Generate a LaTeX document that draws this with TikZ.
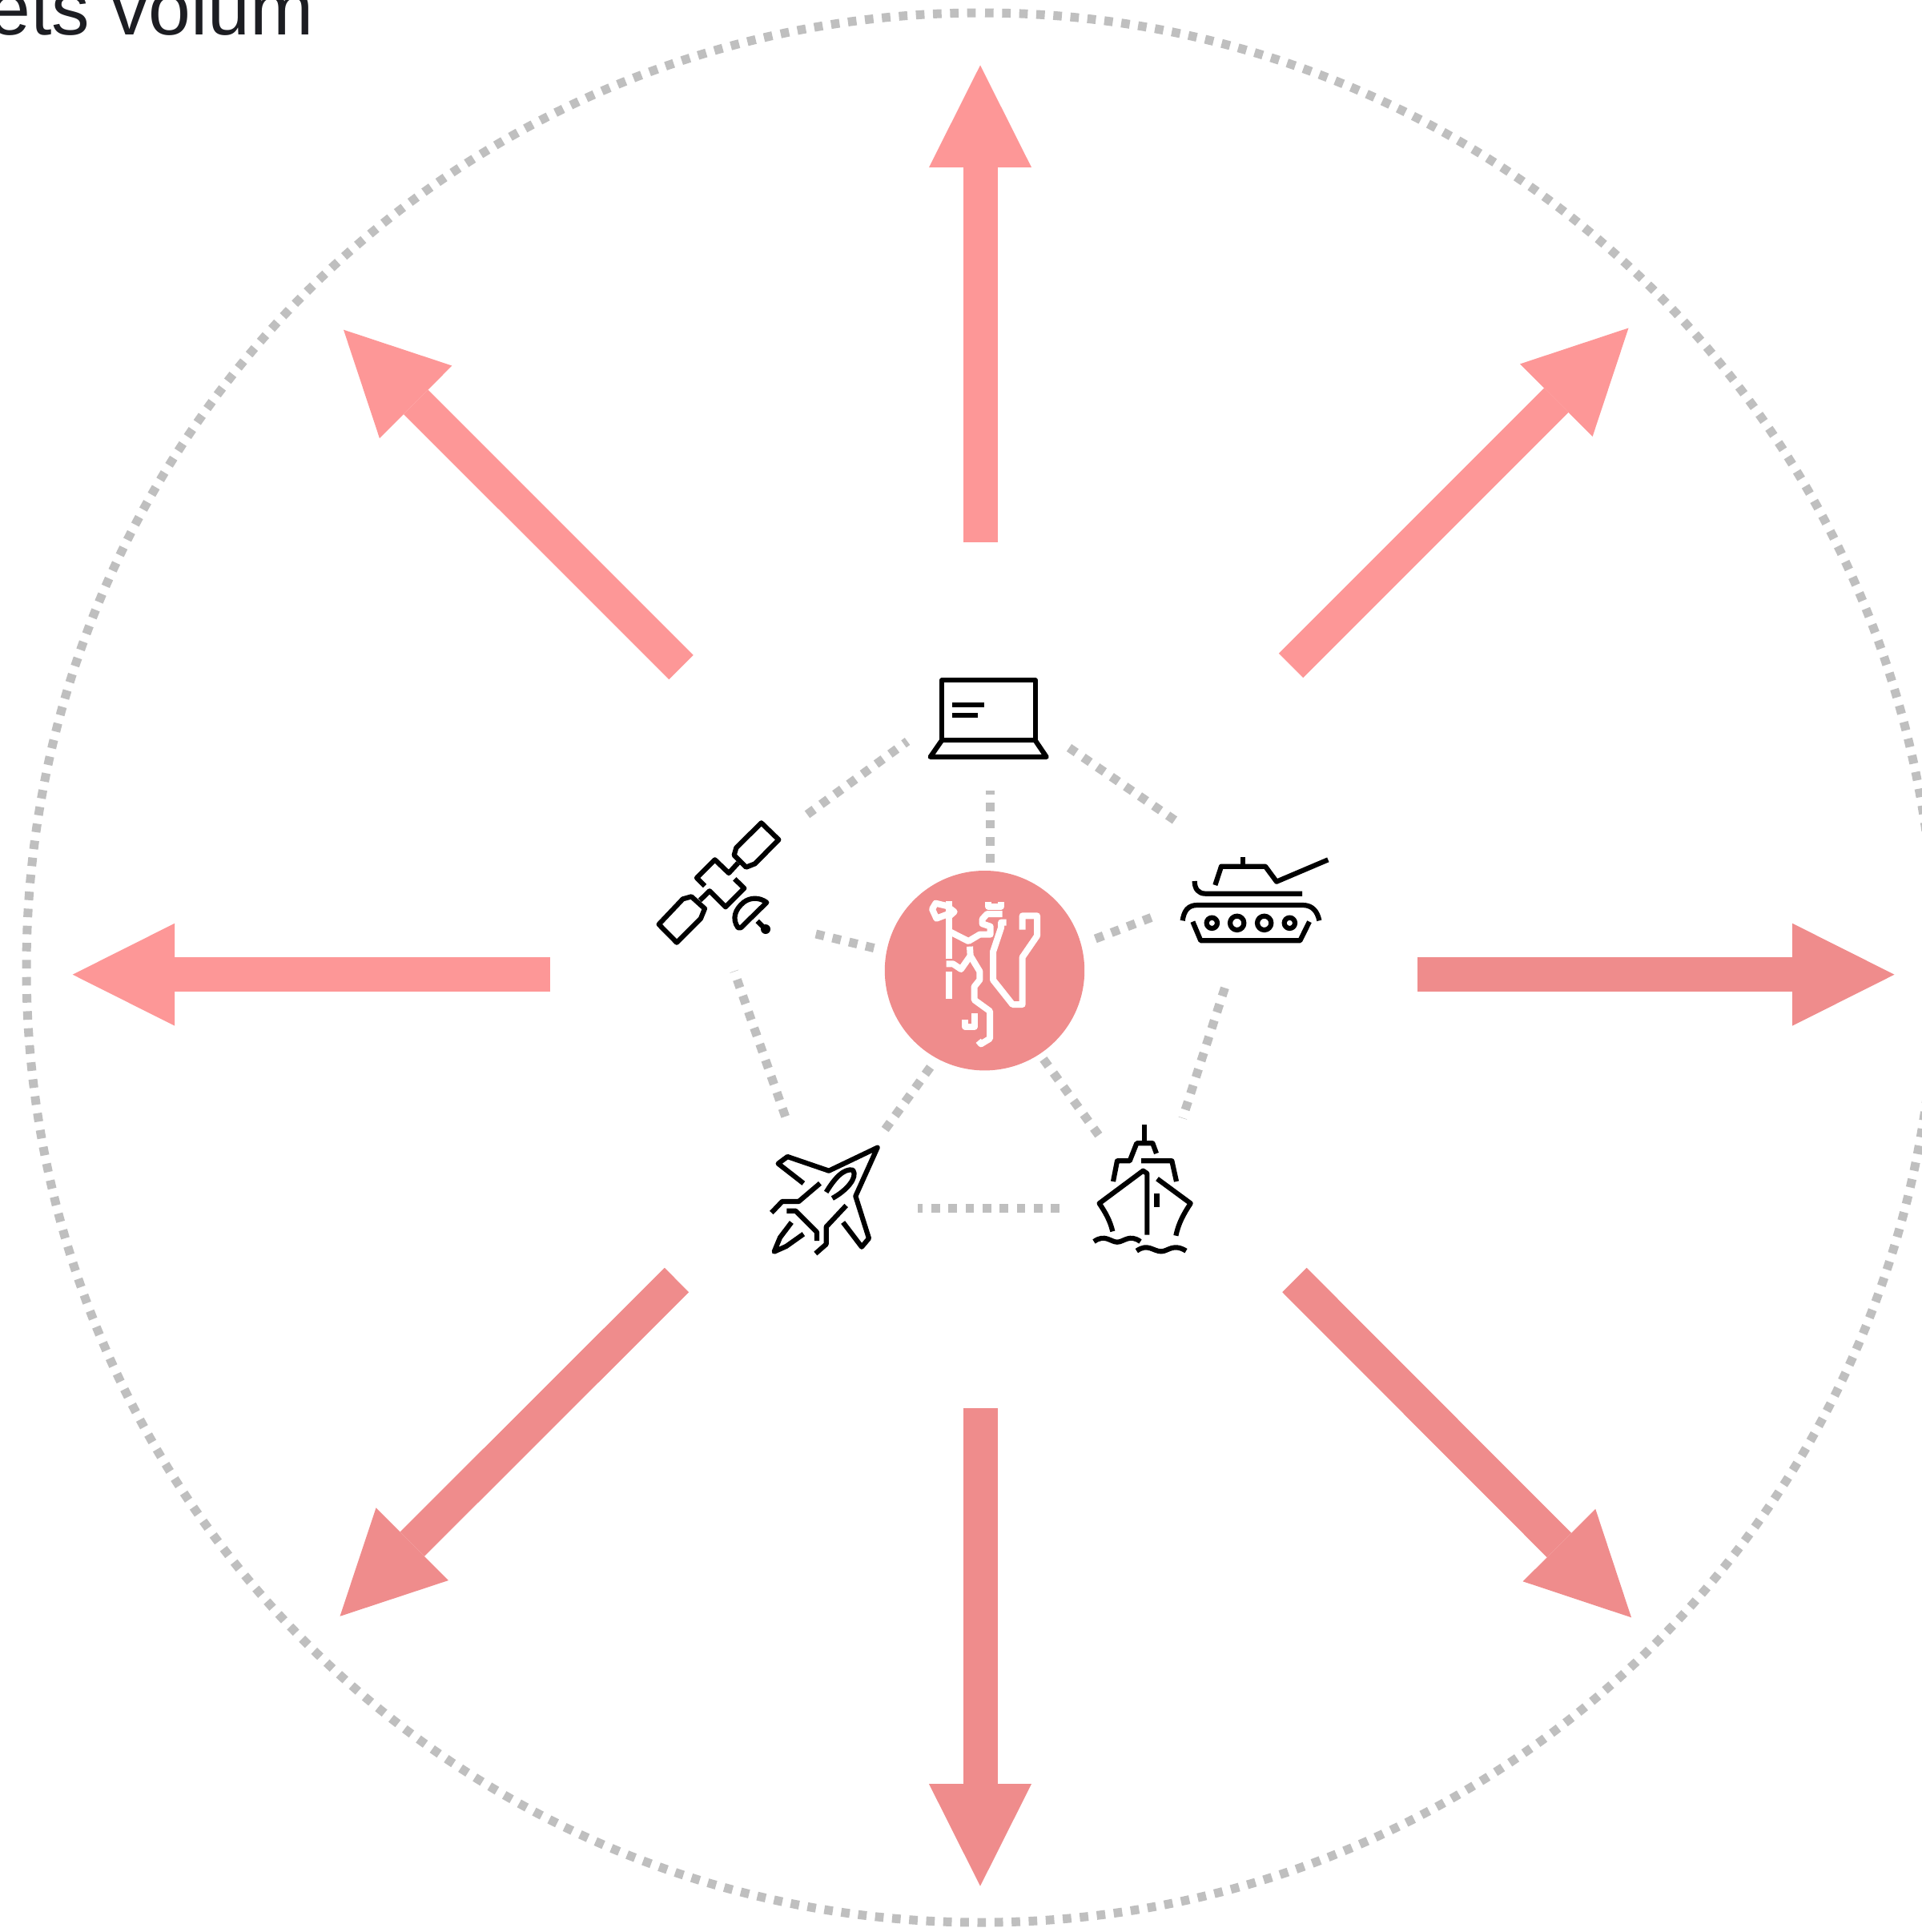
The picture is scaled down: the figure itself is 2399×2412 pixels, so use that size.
\documentclass[tikz,border=0pt]{standalone}
\usepackage{fontspec}
\setmainfont{Liberation Sans}
\usetikzlibrary{arrows.meta}
\definecolor{upcol}{HTML}{FD9797}
\definecolor{lowcol}{HTML}{EF8C8C}
\definecolor{dotcol}{HTML}{BFBFBF}
\definecolor{txtcol}{HTML}{1C1D22}
\tikzset{
  x=0.5pt,y=-0.5pt,
  bigarrow/.style={line width=21.5pt,-{Triangle[length=63.75pt,width=64pt,line width=0pt]}},
  dotline/.style={draw=dotcol,line width=5.5pt,dash pattern=on 5.33pt off 5.33pt},
  ringline/.style={draw=dotcol,line width=5.5pt,dash pattern=on 5.3345pt off 5.3345pt},
  icon/.style={draw=black,line width=3.1pt,line join=round,fill=none},
  lion/.style={draw=white,line width=4pt,line join=round,fill=none},
  zoomed/.style={scale=0.33333},
}
\begin{document}
\begin{tikzpicture}
\useasboundingbox (0,0) rectangle (2399,2412);
\fill[white] (0,0) rectangle (2399,2412);

% clipped title
\node[anchor=base west,inner sep=0pt,text=txtcol,font=\fontsize{47.5pt}{50pt}\selectfont] (title) at (-15,44) {ets volum};

% outer dotted ring
\draw[ringline,dash phase=8.17pt] (1225,16) arc[start angle=-90,end angle=270,radius=1192];

% big arrows
\coordinate (us) at (1224,677);    \coordinate (ut) at (1224,81.5);
\coordinate (uls) at (850.5,833);    \coordinate (ult) at (429,411.7);
\coordinate (urs) at (1612,831);   \coordinate (urt) at (2033.5,409.5);
\coordinate (ls) at (687,1216.7);    \coordinate (lt) at (90.7,1216.7);
\coordinate (rs) at (1770,1216.7);   \coordinate (rt) at (2365.5,1216.7);
\coordinate (lls) at (845,1598);   \coordinate (llt) at (424.5,2017.8);
\coordinate (lrs) at (1616.4,1598);  \coordinate (lrt) at (2037,2019.3);
\coordinate (ds) at (1224,1758);   \coordinate (dt) at (1224,2354.6);
\draw[bigarrow,upcol] (us) -- (ut);
\draw[bigarrow,upcol] (uls) -- (ult);
\draw[bigarrow,upcol] (urs) -- (urt);
\draw[bigarrow,upcol] (ls) -- (lt);
\draw[bigarrow,lowcol] (rs) -- (rt);
\draw[bigarrow,lowcol] (lls) -- (llt);
\draw[bigarrow,lowcol] (lrs) -- (lrt);
\draw[bigarrow,lowcol] (ds) -- (dt);

% centre disc
\node[circle,fill=lowcol,inner sep=0pt,minimum size=124.7pt] (hub) at (1229.5,1211.7) {};

% dotted links
\coordinate (a1) at (1236.3,987.3);  \coordinate (a2) at (1236.3,1076.6);
\coordinate (b1) at (1008,1016.8);   \coordinate (b2) at (1133,925.5);
\coordinate (c1) at (1335,933.5);    \coordinate (c2) at (1475,1029.5);
\coordinate (d1) at (1367.8,1172);   \coordinate (d2) at (1438.8,1145);
\coordinate (e1) at (1018.8,1166);   \coordinate (e2) at (1093,1184);
\coordinate (f1) at (916.7,1212.5);  \coordinate (f2) at (980.8,1394.3);
\coordinate (g1) at (1161.6,1332.4); \coordinate (g2) at (1104.5,1411);
\coordinate (h1) at (1302.9,1322.3); \coordinate (h2) at (1373,1418.7);
\coordinate (i1) at (1476.7,1396);   \coordinate (i2) at (1529.5,1233);
\coordinate (j1) at (1146,1508.4);   \coordinate (j2) at (1325,1508.4);
\draw[dotline,dash phase=3.08pt] (a1) -- (a2);
\draw[dotline] (b1) -- (b2);
\draw[dotline] (c1) -- (c2);
\draw[dotline] (d1) -- (d2);
\draw[dotline] (e1) -- (e2);
\draw[dotline,dash phase=5.1pt] (f1) -- (f2);
\draw[dotline] (g1) -- (g2);
\draw[dotline] (h1) -- (h2);
\draw[dotline,dash phase=5.1pt] (i1) -- (i2);
\draw[dotline,dash phase=2.2pt] (j1) -- (j2);

% laptop
\begin{scope}[shift={(1140,830)},zoomed]
\draw[icon] (108,283) -- (108,58) -- (458,58) -- (458,283) -- cycle;
\draw[icon] (108,283) -- (65,345) -- (500,345) -- (458,283);
\draw[icon] (147,151) -- (268,151);
\draw[icon] (147,190) -- (243,190);
\end{scope}

% satellite
\begin{scope}[shift={(800,1000)},zoomed]
\draw[icon] (452,82) -- (517,145) -- (428,235) -- (395,248) -- (350,203) -- (358,175) -- cycle;
\draw[icon] (365,232) -- (330,270) -- (278,220) -- (210,288) -- (240,318);
\draw[icon] (352,292) -- (388,327) -- (318,397) -- (258,337) -- (222,372);
\draw[icon] (68,462) -- (135,530) -- (225,440) -- (240,403) -- (190,358) -- (158,367) -- cycle;
\draw[icon] (472,380) -- (375,475) -- (365,475) .. controls (340,440) and (355,405) .. (385,380) .. controls (410,360) and (445,360) .. (472,380) -- cycle;
\draw[icon] (437,450) -- (465,478);
\fill (468,480) circle[radius=18];
\end{scope}

% tank
\begin{scope}[shift={(1460,1050)},zoomed]
\draw[icon] (277,60) -- (277,95);
\draw[icon] (172,165) -- (195,95) -- (360,95) -- (402,152) -- (595,70);
\draw[icon] (95,150) .. controls (95,180) and (110,197) .. (135,197) -- (498,197);
\draw[icon] (50,298) .. controls (55,262) and (70,240) .. (105,240) -- (500,240) .. controls (535,240) and (555,262) .. (562,298);
\draw[icon] (88,302) -- (118,373) -- (490,373) -- (525,302);
\draw[icon] (160,307) circle[radius=20];
\draw[icon] (254,307) circle[radius=26];
\draw[icon] (356,307) circle[radius=26];
\draw[icon] (451,307) circle[radius=20];
\end{scope}

% plane
\begin{scope}[shift={(950,1420)},zoomed]
\draw[icon] (160,172) -- (65,98) -- (100,72) -- (255,125) -- (437,38) -- (355,220) -- (405,378) -- (378,410) -- (308,318);
\draw[icon] (245,205) .. controls (275,155) and (310,115) .. (345,122) .. controls (365,150) and (320,200) .. (268,228);
\draw[icon] (222,172) -- (142,240) -- (80,240) -- (40,282);
\draw[icon] (97,275) -- (130,275) -- (210,355) -- (210,387);
\draw[icon] (320,255) -- (245,335) -- (245,400) -- (205,435);
\draw[icon] (115,318) -- (72,375) -- (50,428) -- (95,408) -- (160,362);
\end{scope}

% ship
\begin{scope}[shift={(1350,1390)},zoomed]
\draw[icon] (238,42) -- (238,110);
\draw[icon] (282,150) -- (268,112) -- (208,112) -- (182,178) -- (135,178) -- (120,255);
\draw[icon] (225,178) -- (340,178) -- (357,255);
\draw[icon] (118,442) .. controls (108,400) and (90,370) .. (68,337) -- (232,215) -- (247,225) -- (247,455);
\draw[icon] (285,245) -- (410,337) .. controls (385,375) and (365,410) .. (355,458);
\draw[icon,line width=3.4pt] (284,300) -- (284,350);
\draw[icon] (48,480) .. controls (90,450) and (110,482) .. (135,482) .. controls (160,482) and (180,450) .. (222,480);
\draw[icon] (208,515) .. controls (250,485) and (270,517) .. (300,517) .. controls (325,517) and (345,485) .. (393,515);
\end{scope}

% lion emblem
\begin{scope}[shift={(1080,1060)},zoomed]
\draw[lion] (315,195) -- (315,410);
\draw[lion] (315,458) -- (315,560);
\draw[lion] (315,215) -- (265,203) -- (252,225) -- (268,260) -- (315,242);
\draw[lion] (318,222) -- (335,235) -- (318,250);
\draw[lion] (315,308) -- (388,345) -- (430,320) -- (470,320) -- (470,290) -- (440,280) -- (440,262) -- (458,243) -- (515,243);
\draw[lion] (463,197) -- (463,215) -- (510,215) -- (510,197);
\draw[lion] (530,275) -- (510,275) -- (510,295) -- (480,385) -- (480,490) -- (553,582) -- (590,582) -- (590,405) -- (645,325) -- (645,250) -- (590,250) -- (590,302);
\draw[lion] (393,365) -- (395,400) -- (430,458) -- (430,490) -- (410,515) -- (410,565) -- (468,607) -- (468,710) -- (435,730) -- (425,718);
\draw[lion] (410,615) -- (410,665) -- (375,665) -- (375,640);
\draw[lion] (305,430) -- (330,430) -- (360,450) -- (395,400);
\end{scope}
\end{tikzpicture}
\end{document}
